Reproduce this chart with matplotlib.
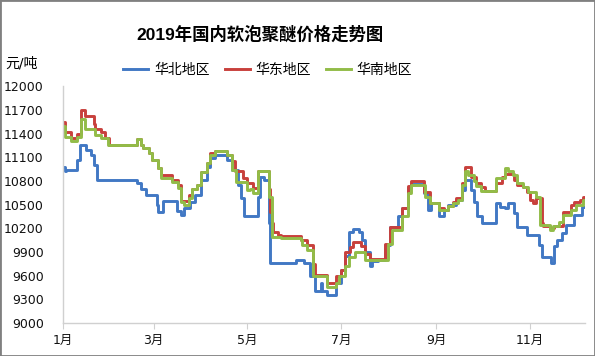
import numpy as np
import pandas as pd
import matplotlib
matplotlib.use("Agg")
import matplotlib.pyplot as plt
import matplotlib.dates as mdates
from matplotlib.lines import Line2D
from matplotlib.patches import Rectangle

plt.rcParams['font.family'] = ['DejaVu Sans', 'Noto Sans CJK SC']

# day of 2019 (0 = 1月1日) where the price changes, and the new price (元/吨)
north_day = [0, 1, 2, 9, 11, 15, 18, 20, 22, 48, 51, 54, 61, 62, 65, 74, 77, 79, 83, 86,
             90, 94, 96, 99, 107, 110, 114, 116, 118, 127, 128, 131, 134, 135, 152, 157,
             161, 164, 168, 169, 172, 178, 181, 184, 186, 189, 193, 195, 197, 200, 201,
             205, 210, 213, 218, 221, 225, 227, 235, 238, 240, 245, 248, 251, 256, 260,
             262, 266, 268, 270, 273, 282, 285, 288, 290, 294, 296, 302, 310, 312, 318,
             320, 322, 325, 328, 333, 338, 340]
north_val = [10980, 10920, 10940, 11060, 11260, 11190, 11130, 11000, 10810, 10770, 10700,
             10620, 10500, 10400, 10550, 10420, 10370, 10450, 10530, 10620, 10810, 10980,
             11085, 11130, 11060, 10940, 10750, 10580, 10350, 10600, 10850, 10810, 10270,
             9755, 9800, 9760, 9590, 9400, 9500, 9400, 9350, 9500, 9670, 9850, 10150, 10190,
             10150, 10050, 9900, 9720, 9780, 9800, 9990, 10220, 10350, 10450, 10710, 10760,
             10640, 10430, 10515, 10350, 10430, 10490, 10560, 10680, 10810, 10680, 10530,
             10350, 10270, 10515, 10470, 10450, 10515, 10390, 10220, 10115, 9990, 9840, 9755,
             9970, 10050, 10135, 10240, 10370, 10470, 10470]

east_day = [0, 1, 5, 9, 12, 14, 20, 21, 25, 27, 30, 48, 51, 52, 56, 58, 62, 64, 71, 75,
            77, 82, 84, 87, 90, 94, 96, 99, 107, 110, 112, 117, 120, 124, 127, 134, 135,
            136, 137, 140, 142, 155, 159, 163, 164, 172, 178, 181, 184, 187, 189, 194, 197,
            200, 210, 213, 221, 225, 227, 235, 239, 245, 248, 251, 254, 256, 260, 262, 266,
            269, 272, 275, 282, 286, 288, 294, 296, 300, 302, 304, 306, 308, 312, 313, 317,
            320, 326, 331, 333, 337, 339, 340]
east_val = [11550, 11420, 11340, 11390, 11700, 11620, 11520, 11460, 11420, 11340, 11260,
            11330, 11260, 11210, 11150, 11060, 10960, 10870, 10810, 10750, 10540, 10620,
            10700, 10750, 10915, 11025, 11150, 11180, 11130, 11050, 10920, 10830, 10770,
            10710, 10920, 10700, 10400, 10270, 10155, 10115, 10100, 10050, 9990, 9750, 9610,
            9500, 9600, 9670, 9900, 9960, 10030, 9970, 9870, 9810, 10000, 10220, 10450,
            10730, 10800, 10660, 10515, 10450, 10430, 10480, 10535, 10580, 10770, 10980,
            10850, 10770, 10720, 10675, 10770, 10850, 10890, 10810, 10750, 10720, 10660,
            10560, 10515, 10580, 10260, 10230, 10200, 10230, 10410, 10490, 10535, 10560,
            10600, 10600]

south_day = [0, 1, 5, 9, 12, 14, 21, 25, 29, 48, 51, 52, 56, 58, 62, 64, 71, 75, 77, 79,
             82, 84, 87, 90, 94, 96, 99, 107, 110, 113, 120, 122, 124, 127, 134, 136, 142,
             155, 156, 159, 163, 172, 178, 180, 184, 186, 190, 197, 212, 214, 221, 225, 227,
             236, 239, 245, 251, 254, 257, 260, 262, 264, 268, 269, 272, 282, 288, 290, 293,
             296, 300, 303, 308, 311, 317, 319, 323, 326, 331, 334, 339, 340]
south_val = [11500, 11360, 11300, 11360, 11590, 11460, 11380, 11340, 11260, 11330, 11260,
             11210, 11150, 11060, 10960, 10830, 10790, 10710, 10535, 10495, 10580, 10700,
             10750, 10915, 11025, 11130, 11180, 11130, 10940, 10790, 10680, 10700, 10640,
             10920, 10600, 10090, 10075, 10050, 9990, 9920, 9600, 9460, 9500, 9590, 9720,
             9840, 9900, 9800, 10000, 10180, 10350, 10640, 10750, 10600, 10515, 10430, 10480,
             10520, 10560, 10750, 10920, 10880, 10800, 10730, 10675, 10830, 10960, 10920,
             10870, 10770, 10720, 10665, 10600, 10240, 10180, 10230, 10280, 10370, 10430,
             10490, 10560, 10560]

series_names = ['华北地区', '华东地区', '华南地区']
series_colors = ['#4178C4', '#C8403C', '#92BC48']
yticks = [9000, 9300, 9600, 9900, 10200, 10500, 10800, 11100, 11400, 11700, 12000]
start = pd.Timestamp('2019-01-01')


def to_dates(days):
    return start + pd.to_timedelta(days, unit='D')


fig = plt.figure(figsize=(5.95, 3.56), dpi=100)
ax = fig.add_axes([0.106, 0.093, 0.877, 0.665])

for days, vals, name, c in zip([north_day, east_day, south_day],
                               [north_val, east_val, south_val],
                               series_names, series_colors):
    ax.plot(to_dates(days), vals, drawstyle='steps-post', color=c, lw=2.1, label=name)

ax.set_ylim(9000, 12000)
ax.set_yticks(yticks)
ax.set_xlim(to_dates([0])[0], to_dates([340])[0])
ax.xaxis.set_major_locator(mdates.MonthLocator(bymonth=[1, 3, 5, 7, 9, 11]))
ax.xaxis.set_major_formatter(plt.FuncFormatter(lambda v, p: '%d月' % mdates.num2date(v).month))

for s in ['top', 'right']:
    ax.spines[s].set_visible(False)
for s in ['left', 'bottom']:
    ax.spines[s].set_color('#d0d0d0')
    ax.spines[s].set_linewidth(1.0)
ax.tick_params(axis='y', length=0, pad=14, labelsize=9, labelcolor='#111111')
ax.tick_params(axis='x', length=4, color='#d0d0d0', pad=4, labelsize=9, labelcolor='#111111')

fig.text(0.437, 0.905, '2019年国内软泡聚醚价格走势图', ha='center', va='center',
         fontsize=12.5, fontweight='bold', family=['Liberation Sans', 'Noto Sans CJK SC'])
fig.text(0.009, 0.823, '元/吨', ha='left', va='center', fontsize=10,
         family=['DejaVu Sans', 'Noto Sans CJK SC'])

handles = [Line2D([], [], color=c, lw=2.1) for c in series_colors]
fig.legend(handles, series_names, loc='center', bbox_to_anchor=(0.45, 0.803), ncol=3,
           frameon=False, handlelength=1.8, handletextpad=0.4,
           columnspacing=1.1, prop={'family': ['Noto Sans CJK SC'], 'size': 10})

fig.patches.append(Rectangle((0, 0), 1, 1, transform=fig.transFigure, fill=False,
                             edgecolor='#808080', lw=2))

fig.savefig('out.png', dpi=100)
